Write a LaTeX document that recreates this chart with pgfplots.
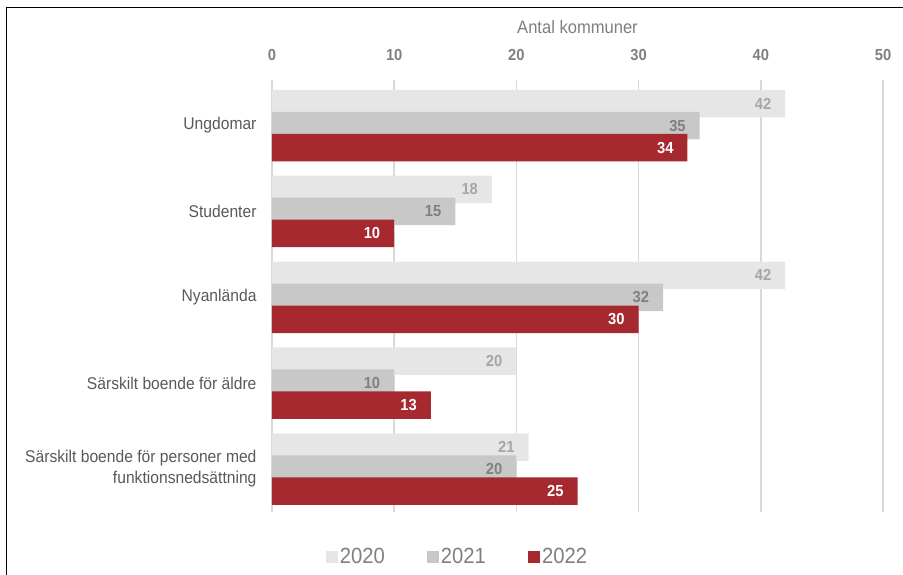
\documentclass[border=0pt]{standalone}
\usepackage{pgfplots}
\pgfplotsset{compat=1.18}
\usepackage{fontspec}
\setmainfont{Liberation Sans}[FakeStretch=0.92]
\definecolor{c2020}{RGB}{230,230,230}
\definecolor{c2021}{RGB}{200,200,200}
\definecolor{c2022}{RGB}{166,41,48}
\definecolor{txtgray}{RGB}{127,127,127}
\definecolor{catgray}{RGB}{89,89,89}
\definecolor{gridc}{RGB}{217,217,217}
\begin{document}
\begin{tikzpicture}
\path[use as bounding box] (0,0) rectangle (903pt,575pt);
\draw[line width=1pt,black] (6.5pt,0) -- (6.5pt,567.5pt) -- (903pt,567.5pt);
\begin{axis}[
  at={(272pt,63pt)}, anchor=south west,
  width=611pt, height=432pt, scale only axis,
  /pgf/number format/assume math mode=true,
  xbar, bar width=27.5pt,
  xmin=0, xmax=50, ymin=-0.53, ymax=4.5,
  y dir=reverse,
  xtick={0,10,...,50},
  xticklabel pos=upper,
  xmajorgrids, major grid style={gridc, line width=1.5pt},
  axis line style={draw=none},
  major tick length=0pt,
  xticklabel style={font=\bfseries\fontsize{16}{16}\selectfont, text=txtgray, anchor=center, yshift=25pt},
  xlabel={Antal kommuner},
  xlabel style={at={(axis description cs:0.5,1)}, anchor=center, yshift=53pt, font=\fontsize{18}{18}\selectfont, text=txtgray},
  ytick={0,1,2,3,4},
  yticklabels={Ungdomar, Studenter, Nyanlända, Särskilt boende för äldre, {Särskilt boende för personer med\\funktionsnedsättning}},
  yticklabel style={align=right, font=\fontsize{17}{21}\selectfont, text=catgray, xshift=-12pt},
  nodes near coords,
  nodes near coords align={horizontal},
  every node near coord/.append style={anchor=east, xshift=-10.5pt, font=\bfseries\fontsize{16}{16}\selectfont},
  legend columns=3,
  legend style={at={(axis description cs:0.3036,-0.104)}, anchor=center, draw=none, fill=none,
    font=\fontsize{22}{22}\selectfont, text=txtgray,
    /tikz/every even column/.append style={column sep=40pt}},
  legend image code/.code={\fill[#1, draw=none] (0pt,-6pt) rectangle (12pt,6pt);},
]
\addplot[fill=c2020, draw=none, bar shift=22pt, every node near coord/.append style={text=black!35}]
  coordinates {(42,0) (18,1) (42,2) (20,3) (21,4)};
\addplot[fill=c2021, draw=none, bar shift=0pt, every node near coord/.append style={text=black!50}]
  coordinates {(35,0) (15,1) (32,2) (10,3) (20,4)};
\addplot[fill=c2022, draw=none, bar shift=-22pt, every node near coord/.append style={text=white}]
  coordinates {(34,0) (10,1) (30,2) (13,3) (25,4)};
\legend{2020, 2021, 2022}
\end{axis}
\end{tikzpicture}
\end{document}
